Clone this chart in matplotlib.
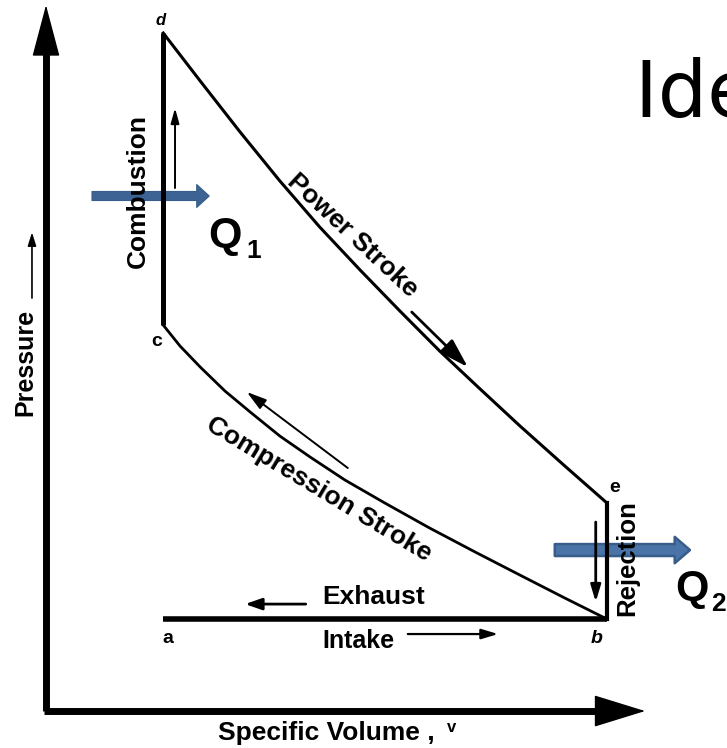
import matplotlib
matplotlib.use("Agg")
import matplotlib.pyplot as plt
from matplotlib.patches import FancyArrowPatch

# state points of the cycle (specific volume v, pressure p, arbitrary units)
v_a, p_a = 2.09, 6.57
v_b, p_b = 10.0, 6.57
v_c, p_c = 2.09, 27.57
v_d, p_d = 2.09, 48.43
v_e, p_e = 10.0, 14.86

# power stroke d -> e
expansion_v = [2.09, 2.75, 3.46, 4.17, 4.88, 5.60, 6.31, 7.02, 7.74, 8.45, 9.25, 10.0]
expansion_p = [48.43, 45.0, 41.36, 37.86, 34.57, 31.5, 28.57, 25.71, 23.0, 20.36, 17.5, 14.86]

# compression stroke b -> c
compression_v = [2.09, 2.39, 2.75, 3.19, 3.64, 4.17, 4.71, 5.33, 6.04, 6.84, 7.65, 8.45, 9.25, 10.0]
compression_p = [27.57, 26.07, 24.57, 22.86, 21.36, 19.64, 18.14, 16.5, 14.86, 13.07, 11.36, 9.71, 8.07, 6.57]

axis_v_end = 10.68
axis_p_end = 50.43

plt.rcParams['font.family'] = ['Liberation Sans', 'DejaVu Sans']

fig = plt.figure(figsize=(7.27, 7.48), dpi=100)
ax = fig.add_axes([0, 0, 1, 1])
ax.set_xlim(-0.82, 12.14)
ax.set_ylim(-2.64, 50.79)
ax.axis('off')

# axes of the diagram
ax.plot([0, 0], [0, axis_p_end - 3.0], color='black', lw=5, solid_capstyle='butt')
ax.plot([-0.04, axis_v_end - 0.7], [0, 0], color='black', lw=5, solid_capstyle='butt')
ax.annotate('', xy=(0, axis_p_end), xytext=(0, axis_p_end - 3.6),
            arrowprops=dict(arrowstyle='-|>,head_length=3.4,head_width=0.9', mutation_scale=10,
                            color='black', lw=1, shrinkA=0, shrinkB=0))
ax.annotate('', xy=(axis_v_end, 0), xytext=(axis_v_end - 0.9, 0),
            arrowprops=dict(arrowstyle='-|>,head_length=3.4,head_width=1.05', mutation_scale=10,
                            color='black', lw=1, shrinkA=0, shrinkB=0))

# the cycle
ax.plot([v_a, v_b], [p_a, p_b], color='black', lw=4, solid_capstyle='butt')
ax.plot([v_c, v_d], [p_c, p_d], color='black', lw=3.6, solid_capstyle='butt')
ax.plot([v_e, v_b], [p_e, p_b], color='black', lw=3, solid_capstyle='projecting')
ax.plot(expansion_v, expansion_p, color='black', lw=2.2, solid_joinstyle='round')
ax.plot(compression_v, compression_p, color='black', lw=2.0, solid_joinstyle='round')


def thin_arrow(start, end, hl=0.8, hw=0.3, lw=1.4):
    ax.annotate('', xy=end, xytext=start,
                arrowprops=dict(arrowstyle='-|>,head_length=%s,head_width=%s' % (hl, hw),
                                mutation_scale=10, color='black', lw=lw,
                                shrinkA=0, shrinkB=0))


thin_arrow((2.30, 37.36), (2.30, 43.07), hl=0.9, hw=0.25)      # combustion
thin_arrow((6.52, 28.5), (7.52, 24.57), hl=1.8, hw=0.55, lw=2)  # power stroke
thin_arrow((5.38, 17.36), (3.58, 22.79), hl=1.2, hw=0.35)      # compression
thin_arrow((9.80, 13.5), (9.80, 7.79), hl=1.0, hw=0.3, lw=2)    # rejection
thin_arrow((4.63, 7.64), (3.55, 7.64), hl=1.0, hw=0.35, lw=2)   # exhaust
thin_arrow((6.45, 5.5), (8.06, 5.5), hl=1.0, hw=0.3, lw=1.6)    # intake
thin_arrow((-0.25, 29.5), (-0.25, 34.2), hl=0.8, hw=0.25, lw=1.2)  # pressure label

# heat in / heat out arrows
blue, blue_edge = '#3D6294', '#385D8A'
q1 = FancyArrowPatch((0.82, 36.79), (2.91, 36.79),
                     arrowstyle='simple,head_length=9,head_width=16.5,tail_width=6.5',
                     mutation_scale=1, fc=blue, ec=blue_edge, lw=0.8, shrinkA=0, shrinkB=0)
q2 = FancyArrowPatch((9.07, 11.5), (11.48, 11.5),
                     arrowstyle='simple,head_length=11,head_width=19,tail_width=8.6',
                     mutation_scale=1, fc='#4A74A8', ec=blue_edge, lw=1.8, shrinkA=0, shrinkB=0)
ax.add_patch(q1)
ax.add_patch(q2)

bold = dict(fontweight='bold', color='black')

# state letters
ax.text(2.05, 49.29, 'd', fontsize=12, style='italic', ha='center', va='center', **bold)
ax.text(1.98, 26.43, 'c', fontsize=14, ha='center', va='center', **bold)
ax.text(2.17, 5.21, 'a', fontsize=14, ha='center', va='center', **bold)
ax.text(9.82, 5.21, 'b', fontsize=14, style='italic', ha='center', va='center', **bold)
ax.text(10.14, 16.0, 'e', fontsize=14, ha='center', va='center', **bold)

# process labels
ax.text(1.64, 37.14, 'Combustion', fontsize=19, rotation=90, ha='center', va='center', **bold)
ax.text(10.37, 10.93, 'Rejection', fontsize=18.5, rotation=90, ha='center', va='center', **bold)
ax.text(5.47, 34.0, 'Power Stroke', fontsize=19, rotation=-43, ha='center', va='center',
        rotation_mode='anchor', **bold)
ax.text(4.87, 15.86, 'Compression Stroke', fontsize=19, rotation=-31, ha='center', va='center',
        rotation_mode='anchor', **bold)
ax.text(4.92, 8.14, 'Exhaust', fontsize=19, ha='left', va='center', **bold)
ax.text(4.92, 5.0, 'Intake', fontsize=18, ha='left', va='center', **bold)
ax.text(-0.37, 24.93, 'Pressure', fontsize=18, rotation=90, ha='center', va='center', **bold)
ax.text(3.07, -1.57, 'Specific Volume ,', fontsize=19, ha='left', va='center', **bold)
ax.text(7.15, -1.21, 'v', fontsize=12, ha='left', va='center', **bold)

# Q labels
ax.text(2.90, 33.14, 'Q', fontsize=31, ha='left', va='baseline', **bold)
ax.text(3.58, 32.36, '1', fontsize=19, ha='left', va='baseline', **bold)
ax.text(11.21, 7.93, 'Q', fontsize=31, ha='left', va='baseline', **bold)
ax.text(11.86, 7.14, '2', fontsize=19, ha='left', va='baseline', **bold)

# slide title, cut off at the right edge as in the source slide
ax.text(10.50, 42.43, 'Ideal Otto Cycle', fontsize=56, family='DejaVu Sans',
        ha='left', va='baseline', color='black')

fig.savefig('out.png', dpi=100)
